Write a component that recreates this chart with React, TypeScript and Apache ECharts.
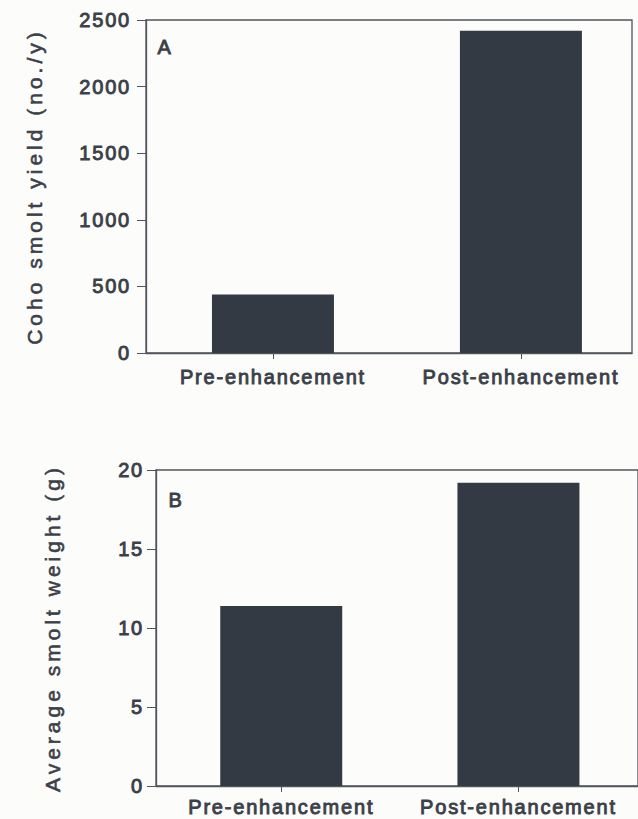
import React, { useEffect, useRef } from "react";
import * as echarts from "echarts";

const categories = ["Pre-enhancement", "Post-enhancement"];
const smoltYield = [440, 2420];
const smoltWeight = [11.4, 19.2];
const panelLabels = ["A", "B"];
const yieldTitle = "Coho smolt yield (no./y)";
const weightTitle = "Average smolt weight (g)";

const INK = "#3b4049";
const LINE = "#50545c";
const BAR = "#343a44";
const FONT = "'Liberation Sans', Arial, sans-serif";
const HEAVY = { textBorderColor: INK, textBorderWidth: 0.9 };

export default function App() {
  const ref = useRef<HTMLDivElement>(null);

  useEffect(() => {
    if (!ref.current) return;
    const chart = echarts.init(ref.current, null, { renderer: "svg" });

    const xCommon = (gridIndex: number, min: number, max: number, margin: number) => ({
      type: "value" as const,
      gridIndex,
      min,
      max,
      splitLine: { show: false },
      axisLine: { show: true, onZero: false, lineStyle: { color: LINE, width: 1.3 } },
      axisTick: { show: true, customValues: [0, 1], length: 6, lineStyle: { color: LINE, width: 1 } },
      axisLabel: {
        customValues: [0, 1],
        formatter: (v: number) => categories[Math.round(v)] ?? "",
        color: INK,
        fontSize: 20,
        fontFamily: FONT,
        margin,
        ...HEAVY,
      },
    });

    const yCommon = (gridIndex: number, max: number, interval: number, title: string, nameGap: number, margin: number) => ({
      type: "value" as const,
      gridIndex,
      min: 0,
      max,
      interval,
      name: title,
      nameLocation: "middle" as const,
      nameGap,
      nameTextStyle: { color: INK, fontSize: 21, fontFamily: FONT, textBorderColor: INK, textBorderWidth: 0.6 },
      splitLine: { show: false },
      axisLine: { show: true, onZero: false, lineStyle: { color: LINE, width: 1.3 } },
      axisTick: { show: true, length: 9, lineStyle: { color: LINE, width: 1 } },
      axisLabel: {
        color: INK,
        fontSize: 20,
        fontFamily: FONT,
        margin,
        formatter: (v: number) => String(v),
        ...HEAVY,
      },
    });

    chart.setOption({
      animation: false,
      backgroundColor: "#fcfcfa",
      grid: [
        { left: 146, top: 20, width: 486, height: 333, show: true, borderColor: LINE, borderWidth: 1.3, backgroundColor: "transparent" },
        { left: 156, top: 470, width: 504, height: 316, show: true, borderColor: LINE, borderWidth: 1.3, backgroundColor: "transparent" },
      ],
      xAxis: [xCommon(0, -0.512, 1.448, 14), xCommon(1, -0.528, 1.504, 11)],
      yAxis: [
        yCommon(0, 2500, 500, yieldTitle, 101, 15),
        yCommon(1, 20, 5, weightTitle, 93, 12),
      ],
      series: [
        {
          type: "bar",
          xAxisIndex: 0,
          yAxisIndex: 0,
          barWidth: 122,
          itemStyle: { color: BAR },
          data: smoltYield.map((v, i) => [i, v]),
        },
        {
          type: "bar",
          xAxisIndex: 1,
          yAxisIndex: 1,
          barWidth: 122,
          itemStyle: { color: BAR },
          data: smoltWeight.map((v, i) => [i, v]),
        },
      ],
      graphic: [
        { type: "text", left: 157, top: 37, style: { text: panelLabels[0], fill: INK, fontSize: 20, fontFamily: FONT, stroke: INK, lineWidth: 0.9 } },
        { type: "text", left: 168, top: 490, style: { text: panelLabels[1], fill: INK, fontSize: 20, fontFamily: FONT, stroke: INK, lineWidth: 0.9 } },
      ],
    });

    return () => chart.dispose();
  }, []);

  return (
    <>
      <style>{`
        .chartwrap text { letter-spacing: 1.8px; }
        .chartwrap text[style*="21px"] { letter-spacing: 4px; }
      `}</style>
      <div
        ref={ref}
        className="chartwrap"
        style={{ position: "absolute", left: 0, top: 0, width: 638, height: 819 }}
      />
    </>
  );
}
